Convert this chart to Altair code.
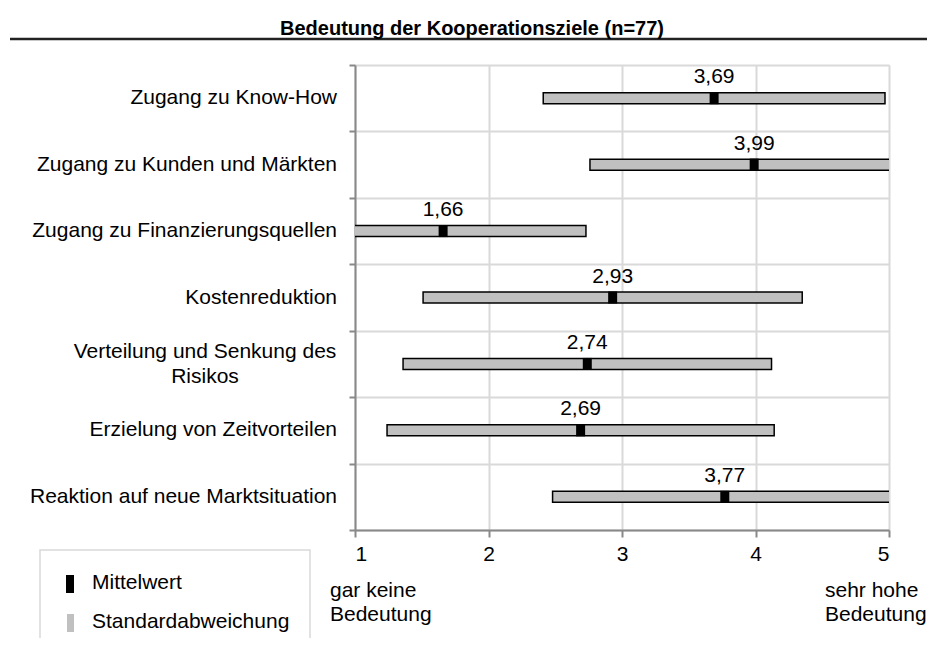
import altair as alt
import pandas as pd

# ---- data ----
categories = [
    "Zugang zu Know-How",
    "Zugang zu Kunden und Märkten",
    "Zugang zu Finanzierungsquellen",
    "Kostenreduktion",
    "Verteilung und Senkung des|Risikos",
    "Erzielung von Zeitvorteilen",
    "Reaktion auf neue Marktsituation",
]
means = [3.69, 3.99, 1.66, 2.93, 2.74, 2.69, 3.77]
std_devs = [1.28, 1.23, 1.07, 1.42, 1.38, 1.45, 1.29]
x_ticks = [1, 2, 3, 4, 5]
series_names = ["Mittelwert", "Standardabweichung"]
scale_ends = ["gar keine\nBedeutung", "sehr hohe\nBedeutung"]
title_text = "Bedeutung der Kooperationsziele (n=77)"

FONT = "Liberation Sans"

df = pd.DataFrame({
    "cat": categories,
    "mean": means,
    "low": [m - s for m, s in zip(means, std_devs)],
    "high": [m + s for m, s in zip(means, std_devs)],
    "label": [f"{m:.2f}".replace(".", ",") for m in means],
})

x_scale = alt.Scale(domain=[1, 5], nice=False, zero=False)
y_enc = alt.Y(
    "cat:N", sort=categories, title=None,
    scale=alt.Scale(paddingInner=0, paddingOuter=0),
    axis=alt.Axis(
        labels=False,
        tickBand="extent", tickSize=6, tickColor="#898989", tickWidth=2,
        domainColor="#898989", domainWidth=2,
        grid=True, gridColor="#d9d9d9", gridWidth=2,
    ),
)

base = alt.Chart(df)

bars = base.mark_bar(size=11, fill="#c0c0c0", stroke="black", strokeWidth=1.5, clip=True).encode(
    x=alt.X("low:Q", scale=x_scale, title=None,
            axis=alt.Axis(values=x_ticks, format="d", labelFontSize=21, labelColor="black",
                          labelFont=FONT, labelPadding=6, tickSize=7, tickColor="#898989",
                          tickWidth=2, domainColor="#898989", domainWidth=2,
                          grid=True, gridColor="#d9d9d9", gridWidth=2)),
    x2="high:Q",
    y=y_enc,
)

mean_marks = base.mark_tick(thickness=9, size=12, color="black", opacity=1).encode(
    x=alt.X("mean:Q", scale=x_scale),
    y=alt.Y("cat:N", sort=categories),
)

labels = base.mark_text(dy=-15, baseline="alphabetic", fontSize=21, font=FONT, color="black").encode(
    x=alt.X("mean:Q", scale=x_scale),
    y=alt.Y("cat:N", sort=categories),
    text="label:N",
)

# category labels (one-line labels right-aligned, the two-line label centred)
cat_single = base.transform_filter("indexof(datum.cat, '|') < 0").mark_text(
    align="right", baseline="middle", fontSize=21, font=FONT, color="black"
).encode(x=alt.value(-18), y=alt.Y("cat:N", sort=categories), text="cat:N")
cat_multi = base.transform_filter("indexof(datum.cat, '|') >= 0").mark_text(
    align="center", baseline="middle", dy=-12, fontSize=21, font=FONT, color="black",
    lineBreak="|", lineHeight=25,
).encode(x=alt.value(-150), y=alt.Y("cat:N", sort=categories), text="cat:N")

ends_df = pd.DataFrame({"x": [1, 5], "t": scale_ends})
end_left = alt.Chart(ends_df.iloc[[0]]).mark_text(
    align="left", baseline="alphabetic", dx=-25, fontSize=21, font=FONT, color="black",
    lineBreak="\n", lineHeight=24,
).encode(x=alt.X("x:Q", scale=x_scale), y=alt.value(532), text="t:N")
end_right = alt.Chart(ends_df.iloc[[1]]).mark_text(
    align="left", baseline="alphabetic", dx=-64, fontSize=21, font=FONT, color="black",
    lineBreak="\n", lineHeight=24,
).encode(x=alt.X("x:Q", scale=x_scale), y=alt.value(532), text="t:N")

one = pd.DataFrame({"a": [0]})
title_rule = alt.Chart(one).mark_rule(color="#222222", strokeWidth=2.5).encode(
    x=alt.value(-345), x2=alt.value(580), y=alt.value(-26)
)

# legend (box, swatches, labels)
leg_box = alt.Chart(one).mark_rect(fill="white", stroke="#d9d9d9", strokeWidth=1.5).encode(
    x=alt.value(-315), x2=alt.value(-45), y=alt.value(485), y2=alt.value(600)
)
leg_sw1 = alt.Chart(one).mark_rect(fill="black").encode(
    x=alt.value(-289), x2=alt.value(-281), y=alt.value(510), y2=alt.value(528)
)
leg_sw2 = alt.Chart(one).mark_rect(fill="#c0c0c0").encode(
    x=alt.value(-288), x2=alt.value(-281), y=alt.value(549), y2=alt.value(567)
)
leg_t1 = alt.Chart(pd.DataFrame({"t": [series_names[0]]})).mark_text(
    align="left", baseline="middle", fontSize=21, font=FONT, color="black"
).encode(x=alt.value(-263), y=alt.value(518), text="t:N")
leg_t2 = alt.Chart(pd.DataFrame({"t": [series_names[1]]})).mark_text(
    align="left", baseline="middle", fontSize=21, font=FONT, color="black"
).encode(x=alt.value(-263), y=alt.value(557), text="t:N")

chart = alt.layer(
    bars, mean_marks, labels, cat_single, cat_multi, end_left, end_right, title_rule,
    leg_box, leg_sw1, leg_sw2, leg_t1, leg_t2,
).properties(
    width=534, height=465,
    padding={"left": 347, "top": 57, "right": 38, "bottom": 108},
    autosize=alt.AutoSizeParams(type="none"),
    title=alt.TitleParams(title_text, fontSize=20, fontWeight="bold", color="black", font=FONT,
                          anchor="middle", dx=-150, dy=5, offset=4),
).configure_view(stroke=None).configure(font=FONT)

chart.save("out.html", embed_options={"renderer": "svg", "actions": False})
